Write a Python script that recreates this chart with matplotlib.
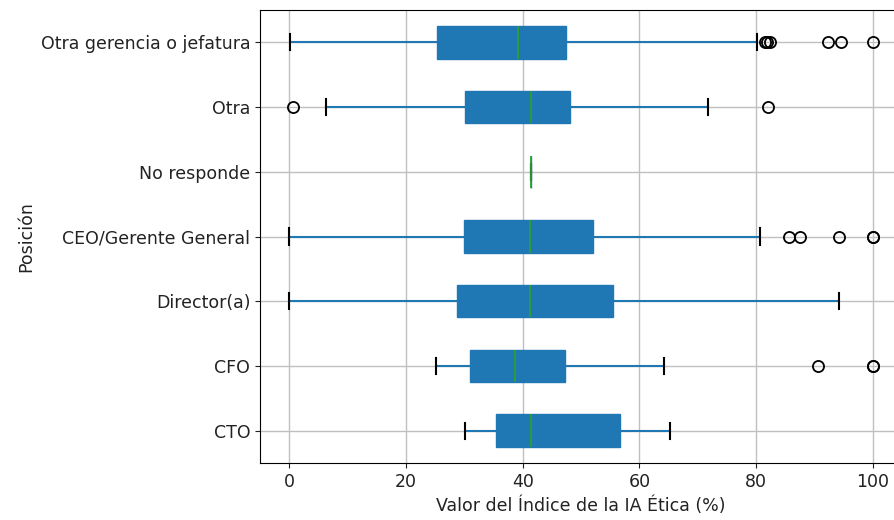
import matplotlib
matplotlib.use("Agg")
import matplotlib.pyplot as plt

# Box statistics, bottom row first
positions = ["CTO", "CFO", "Director(a)", "CEO/Gerente General",
             "No responde", "Otra", "Otra gerencia o jefatura"]
whislo = [30.2, 25.2, 0.0, 0.0, 41.5, 6.3, 0.2]
q1 = [35.5, 30.9, 28.7, 29.9, 41.5, 30.1, 25.3]
med = [41.5, 38.7, 41.2, 41.2, 41.5, 41.5, 39.2]
q3 = [56.6, 47.2, 55.4, 52.1, 41.5, 48.1, 47.4]
whishi = [65.2, 64.2, 94.2, 80.7, 41.5, 71.7, 80.2]
fliers = [
    [],
    [90.6, 100.0, 100.0],
    [],
    [85.6, 87.6, 94.2, 100.0, 100.0],
    [],
    [0.7, 82.1],
    [81.5, 81.9, 82.3, 92.3, 94.6, 100.0],
]

stats = []
for i, name in enumerate(positions):
    stats.append({
        "label": name,
        "whislo": whislo[i], "q1": q1[i], "med": med[i],
        "q3": q3[i], "whishi": whishi[i], "fliers": fliers[i],
    })

fig = plt.figure(figsize=(8.95, 5.2), dpi=100)
ax = fig.add_axes([260 / 895, 57 / 520, 642 / 895, 453 / 520])

blue = "#1f77b4"
ax.bxp(
    stats, vert=False, patch_artist=True, widths=0.5,
    boxprops=dict(facecolor=blue, edgecolor=blue),
    whiskerprops=dict(color=blue, linewidth=1.5),
    capprops=dict(color="black", linewidth=1.5),
    medianprops=dict(color="#2ca02c", linewidth=1.3, zorder=5),
    flierprops=dict(marker="o", markerfacecolor="none",
                    markeredgecolor="black", markersize=8,
                    markeredgewidth=1.3),
)

ax.set_xlim(-5, 105)
ax.set_ylim(0.5, len(positions) + 0.5)
ax.set_xticks([0, 20, 40, 60, 80, 100])
ax.tick_params(labelsize=12.5, colors="#222222", labelcolor="#222222")
ax.grid(True, color="#c0c0c0", linewidth=1.0)
ax.set_axisbelow(True)
ax.set_xlabel("Valor del Índice de la IA Ética (%)", fontsize=12.5,
              color="#222222")
ax.set_ylabel("Posición", fontsize=12.5, color="#222222")

fig.savefig("out.png", dpi=100)
